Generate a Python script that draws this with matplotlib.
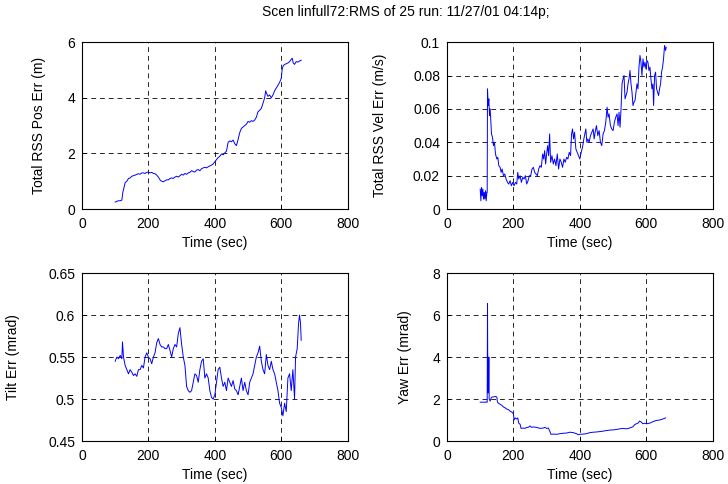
import matplotlib
matplotlib.use("Agg")
from matplotlib import pyplot as plt

plt.rcParams['font.family'] = ['Liberation Sans', 'DejaVu Sans']
plt.rcParams['font.size'] = 10

title = "Scen linfull72:RMS of 25 run: 11/27/01 04:14p;"
xlabel = "Time (sec)"

# position error (m)
t_pos = [100, 105, 110, 115, 120, 123, 126, 130, 135, 140, 145, 150, 155, 160, 165, 170, 175, 180,
         185, 190, 195, 200, 205, 210, 215, 220, 225, 230, 235, 240, 245, 250, 255, 260, 265, 270,
         275, 280, 285, 290, 295, 300, 305, 310, 315, 320, 325, 330, 335, 340, 345, 350, 355, 360,
         365, 370, 375, 380, 385, 390, 395, 400, 405, 410, 415, 420, 425, 430, 435, 440, 445, 450,
         455, 460, 465, 470, 475, 480, 485, 490, 495, 500, 505, 510, 515, 520, 525, 530, 535, 540,
         545, 550, 553, 556, 560, 565, 570, 575, 580, 585, 590, 595, 600, 603, 606, 610, 615, 620,
         625, 630, 633, 636, 640, 645, 650, 655, 660]
pos_err = [0.25, 0.28, 0.30, 0.30, 0.32, 0.60, 0.75, 0.95, 1.00, 1.10, 1.12, 1.18, 1.20, 1.22, 1.25,
           1.27, 1.25, 1.30, 1.30, 1.28, 1.32, 1.33, 1.30, 1.32, 1.28, 1.27, 1.22, 1.15, 1.05, 1.00,
           0.98, 1.02, 1.05, 1.05, 1.10, 1.12, 1.10, 1.15, 1.18, 1.15, 1.20, 1.25, 1.22, 1.28, 1.25,
           1.30, 1.32, 1.38, 1.35, 1.33, 1.40, 1.42, 1.38, 1.45, 1.48, 1.50, 1.48, 1.52, 1.55, 1.58,
           1.62, 1.70, 1.78, 1.85, 1.90, 1.98, 1.95, 2.02, 2.08, 2.40, 2.45, 2.42, 2.48, 2.35, 2.28,
           2.50, 2.75, 2.90, 2.95, 3.00, 3.05, 3.15, 3.12, 3.18, 3.15, 3.20, 3.30, 3.50, 3.55, 3.62,
           3.80, 4.00, 4.25, 4.15, 4.05, 4.10, 4.00, 4.10, 4.25, 4.35, 4.45, 4.55, 4.70, 5.05, 5.15,
           5.20, 5.22, 5.25, 5.30, 5.38, 5.42, 5.25, 5.20, 5.30, 5.28, 5.32, 5.35]

# velocity error (m/s)
t_vel = [100, 102, 104, 106, 108, 110, 112, 114, 116, 118, 120, 121, 122, 124, 126, 128, 130, 132,
         134, 137, 140, 143, 146, 150, 153, 156, 160, 163, 166, 170, 174, 178, 182, 186, 190, 194,
         198, 202, 206, 210, 213, 216, 220, 224, 228, 232, 236, 240, 244, 248, 252, 256, 260, 264,
         268, 272, 276, 280, 284, 288, 291, 294, 297, 300, 303, 306, 309, 312, 316, 320, 324, 328,
         332, 336, 340, 344, 348, 352, 356, 360, 364, 368, 372, 375, 378, 381, 384, 388, 392, 396,
         400, 404, 408, 412, 415, 418, 421, 424, 428, 432, 436, 440, 443, 446, 450, 454, 458, 462,
         466, 470, 474, 478, 482, 485, 488, 492, 496, 500, 504, 508, 512, 515, 518, 521, 524, 527,
         530, 533, 536, 539, 542, 545, 548, 551, 554, 557, 560, 563, 566, 569, 572, 575, 578, 581,
         584, 587, 590, 593, 596, 599, 602, 605, 608, 611, 614, 617, 620, 622, 625, 628, 631, 634,
         637, 640, 643, 646, 649, 652, 655, 658, 660]
vel_err = [0.012, 0.005, 0.013, 0.008, 0.012, 0.006, 0.010, 0.006, 0.011, 0.005, 0.010, 0.010,
           0.072, 0.062, 0.066, 0.056, 0.060, 0.052, 0.045, 0.043, 0.038, 0.040, 0.033, 0.030,
           0.031, 0.026, 0.025, 0.022, 0.024, 0.020, 0.021, 0.018, 0.016, 0.015, 0.017, 0.014,
           0.016, 0.014, 0.016, 0.015, 0.022, 0.018, 0.020, 0.016, 0.019, 0.018, 0.020, 0.015,
           0.017, 0.020, 0.020, 0.024, 0.025, 0.022, 0.021, 0.020, 0.024, 0.026, 0.025, 0.033,
           0.030, 0.035, 0.027, 0.033, 0.038, 0.032, 0.045, 0.028, 0.032, 0.027, 0.030, 0.026,
           0.033, 0.024, 0.030, 0.028, 0.025, 0.030, 0.028, 0.031, 0.030, 0.034, 0.032, 0.045,
           0.048, 0.042, 0.046, 0.036, 0.034, 0.032, 0.030, 0.034, 0.037, 0.042, 0.045, 0.048,
           0.040, 0.042, 0.040, 0.044, 0.046, 0.048, 0.042, 0.046, 0.050, 0.044, 0.047, 0.040,
           0.038, 0.045, 0.047, 0.052, 0.061, 0.055, 0.057, 0.050, 0.048, 0.047, 0.052, 0.055,
           0.057, 0.050, 0.058, 0.049, 0.060, 0.075, 0.078, 0.080, 0.066, 0.068, 0.070, 0.075,
           0.078, 0.083, 0.075, 0.070, 0.062, 0.064, 0.065, 0.070, 0.075, 0.072, 0.085, 0.092,
           0.088, 0.080, 0.090, 0.085, 0.088, 0.084, 0.089, 0.088, 0.083, 0.085, 0.078, 0.072,
           0.075, 0.062, 0.080, 0.082, 0.072, 0.070, 0.068, 0.072, 0.075, 0.082, 0.085, 0.090,
           0.098, 0.095, 0.097]

# tilt error (mrad)
t_tilt = [100, 105, 110, 115, 120, 122, 125, 130, 135, 140, 145, 150, 155, 160, 165, 170, 175, 180,
          185, 190, 195, 200, 205, 210, 215, 220, 225, 230, 235, 240, 245, 250, 255, 260, 265, 270,
          275, 280, 285, 290, 295, 300, 305, 310, 315, 320, 325, 330, 335, 340, 345, 350, 355, 360,
          365, 370, 375, 380, 385, 390, 395, 400, 405, 410, 415, 420, 425, 430, 435, 440, 445, 450,
          455, 460, 465, 470, 475, 480, 485, 490, 495, 500, 505, 510, 515, 520, 525, 530, 535, 540,
          545, 550, 555, 560, 565, 570, 575, 580, 585, 590, 595, 600, 605, 610, 615, 620, 625, 630,
          635, 640, 643, 648, 652, 655, 658, 660]
tilt_err = [0.545, 0.550, 0.548, 0.552, 0.548, 0.568, 0.550, 0.540, 0.535, 0.530, 0.535, 0.532,
            0.528, 0.530, 0.527, 0.535, 0.535, 0.540, 0.537, 0.550, 0.555, 0.550, 0.548, 0.542,
            0.550, 0.555, 0.567, 0.572, 0.565, 0.562, 0.562, 0.560, 0.560, 0.565, 0.558, 0.550,
            0.560, 0.565, 0.562, 0.578, 0.585, 0.565, 0.550, 0.540, 0.515, 0.510, 0.508, 0.510,
            0.520, 0.530, 0.528, 0.520, 0.535, 0.545, 0.548, 0.525, 0.530, 0.525, 0.510, 0.502,
            0.500, 0.505, 0.520, 0.535, 0.538, 0.525, 0.515, 0.520, 0.510, 0.525, 0.520, 0.515,
            0.522, 0.512, 0.510, 0.505, 0.515, 0.525, 0.510, 0.520, 0.510, 0.505, 0.520, 0.525,
            0.530, 0.540, 0.550, 0.555, 0.563, 0.545, 0.535, 0.530, 0.553, 0.540, 0.535, 0.545,
            0.535, 0.530, 0.520, 0.510, 0.495, 0.490, 0.480, 0.495, 0.485, 0.525, 0.530, 0.510,
            0.535, 0.500, 0.550, 0.560, 0.590, 0.600, 0.590, 0.570]

# yaw error (mrad)
t_yaw = [100, 110, 120, 121, 122, 123, 125, 126, 127, 130, 133, 136, 140, 145, 150, 152, 155, 160,
         165, 170, 175, 180, 185, 190, 195, 200, 202, 205, 210, 213, 216, 220, 223, 230, 235, 240,
         245, 250, 255, 260, 270, 280, 290, 295, 300, 305, 310, 313, 320, 330, 340, 350, 360, 370,
         380, 390, 395, 400, 410, 420, 430, 440, 450, 460, 470, 480, 490, 500, 510, 520, 530, 540,
         550, 560, 565, 570, 575, 580, 585, 590, 595, 600, 610, 620, 630, 640, 650, 658]
yaw_err = [1.85, 1.85, 1.85, 1.85, 6.55, 2.30, 2.30, 4.00, 2.00, 1.90, 2.05, 2.10, 2.10, 2.12, 2.10,
           1.85, 1.80, 1.75, 1.70, 1.62, 1.58, 1.52, 1.50, 1.42, 1.38, 1.30, 1.00, 1.10, 1.05, 1.10,
           0.85, 0.80, 0.60, 0.62, 0.60, 0.65, 0.65, 0.72, 0.65, 0.67, 0.65, 0.60, 0.62, 0.65, 0.60,
           0.62, 0.45, 0.32, 0.33, 0.32, 0.35, 0.37, 0.38, 0.42, 0.40, 0.35, 0.30, 0.32, 0.33, 0.35,
           0.40, 0.42, 0.43, 0.45, 0.47, 0.50, 0.52, 0.53, 0.55, 0.58, 0.60, 0.58, 0.62, 0.68, 0.78,
           0.82, 0.85, 0.95, 0.90, 0.82, 0.85, 0.82, 0.85, 0.92, 0.98, 1.00, 1.05, 1.10]

panels = [
    (t_pos, pos_err, "Total RSS Pos Err (m)", [0, 2, 4, 6], ["0", "2", "4", "6"]),
    (t_vel, vel_err, "Total RSS Vel Err (m/s)", [0, 0.02, 0.04, 0.06, 0.08, 0.1],
     ["0", "0.02", "0.04", "0.06", "0.08", "0.1"]),
    (t_tilt, tilt_err, "Tilt Err (mrad)", [0.45, 0.5, 0.55, 0.6, 0.65],
     ["0.45", "0.5", "0.55", "0.6", "0.65"]),
    (t_yaw, yaw_err, "Yaw Err (mrad)", [0, 2, 4, 6, 8], ["0", "2", "4", "6", "8"]),
]

# axes boxes in figure fractions (left, bottom, width, height)
boxes = [
    (0.1126, 0.568, 0.365, 0.345),
    (0.614, 0.568, 0.365, 0.345),
    (0.1126, 0.0888, 0.365, 0.347),
    (0.614, 0.0888, 0.365, 0.347),
]
ylabel_x = [-0.135, -0.226, -0.233, -0.132]

fig = plt.figure(figsize=(7.28, 4.84), dpi=100)
for i in range(4):
    t, v, ylab, yt, ytl = panels[i]
    ax = fig.add_axes(boxes[i])
    ax.plot(t, v, color=(0, 0, 1), linewidth=0.7)
    ax.set_xlim(0, 800)
    ax.set_ylim(yt[0], yt[-1])
    ax.set_xticks([0, 200, 400, 600, 800])
    ax.set_yticks(yt)
    ax.set_yticklabels(ytl)
    ax.grid(True, color='k', linestyle=(0, (5, 4)), linewidth=0.7, alpha=0.85)
    ax.tick_params(direction='in', length=3, width=0.7, pad=5)
    ax.tick_params(axis='x', pad=6)
    for s in ax.spines.values():
        s.set_linewidth(0.8)
    ax.set_xlabel(xlabel)
    ax.set_ylabel(ylab)
    ax.xaxis.set_label_coords(0.5, -0.16)
    ax.yaxis.set_label_coords(ylabel_x[i], 0.5)

fig.text(406 / 728, 1 - 12 / 484, title, ha='center', va='center')

plt.savefig('out.png', dpi=100)
